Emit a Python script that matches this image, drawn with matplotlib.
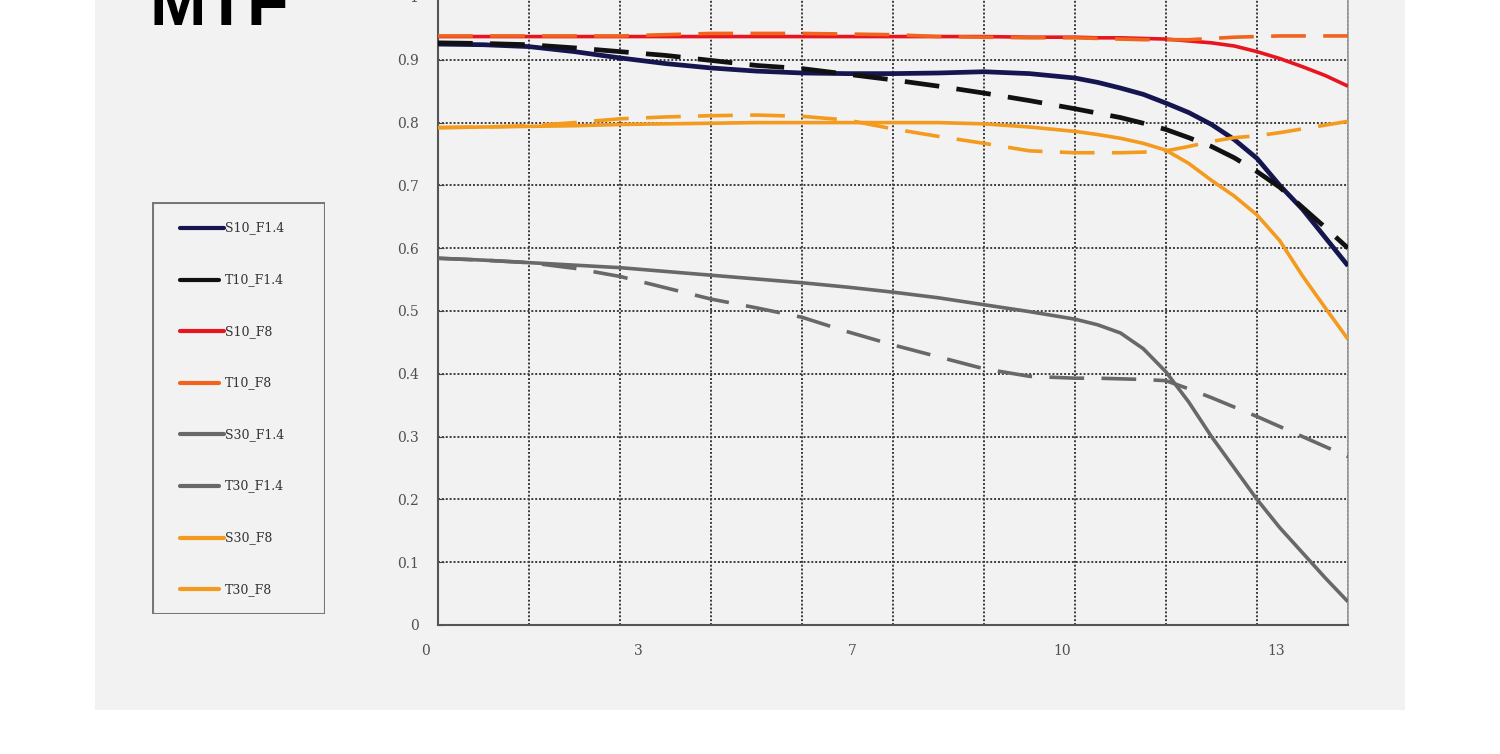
import matplotlib
matplotlib.use("Agg")
from matplotlib import pyplot as plt
from matplotlib.patches import Rectangle

# grid units along the field (0..10), finer toward the edge
u = [0, 0.5, 1, 1.5, 2, 2.5, 3, 3.5, 4, 4.5, 5, 5.5, 6, 6.5, 7,
     7.25, 7.5, 7.75, 8, 8.25, 8.5, 8.75, 9, 9.25, 9.5, 9.75, 10]

s10_f14 = [0.925, 0.924, 0.921, 0.913, 0.903, 0.894, 0.887, 0.882, 0.879, 0.878, 0.878, 0.879, 0.881, 0.878, 0.871,
           0.864, 0.855, 0.845, 0.831, 0.816, 0.797, 0.773, 0.743, 0.700, 0.662, 0.617, 0.572]
t10_f14 = [0.927, 0.926, 0.924, 0.919, 0.913, 0.907, 0.899, 0.891, 0.886, 0.877, 0.868, 0.858, 0.847, 0.835, 0.822,
           0.815, 0.808, 0.799, 0.789, 0.776, 0.762, 0.744, 0.722, 0.697, 0.665, 0.633, 0.600]
s10_f8 = [0.937, 0.937, 0.937, 0.937, 0.937, 0.937, 0.937, 0.937, 0.937, 0.937, 0.937, 0.937, 0.937, 0.936, 0.936,
          0.935, 0.935, 0.934, 0.933, 0.930, 0.927, 0.922, 0.913, 0.902, 0.889, 0.875, 0.858]
t10_f8 = [0.938, 0.938, 0.938, 0.938, 0.938, 0.940, 0.942, 0.942, 0.942, 0.941, 0.940, 0.937, 0.936, 0.935, 0.935,
          0.934, 0.933, 0.932, 0.932, 0.932, 0.934, 0.936, 0.937, 0.938, 0.938, 0.938, 0.938]
s30_f14 = [0.584, 0.581, 0.577, 0.573, 0.569, 0.563, 0.557, 0.551, 0.545, 0.538, 0.530, 0.521, 0.510, 0.499, 0.487,
           0.478, 0.465, 0.440, 0.403, 0.355, 0.300, 0.250, 0.200, 0.155, 0.115, 0.075, 0.037]
t30_f14 = [0.584, 0.581, 0.577, 0.568, 0.555, 0.537, 0.519, 0.505, 0.490, 0.467, 0.446, 0.427, 0.408, 0.396, 0.393,
           0.393, 0.392, 0.391, 0.389, 0.376, 0.362, 0.347, 0.332, 0.316, 0.300, 0.284, 0.268]
s30_f8 = [0.792, 0.793, 0.794, 0.795, 0.797, 0.798, 0.799, 0.800, 0.800, 0.800, 0.800, 0.800, 0.798, 0.793, 0.786,
          0.781, 0.775, 0.767, 0.756, 0.735, 0.708, 0.683, 0.653, 0.612, 0.556, 0.505, 0.455]
t30_f8 = [0.792, 0.793, 0.795, 0.800, 0.806, 0.809, 0.811, 0.812, 0.810, 0.804, 0.790, 0.778, 0.767, 0.755, 0.752,
          0.752, 0.752, 0.753, 0.755, 0.762, 0.770, 0.776, 0.779, 0.784, 0.790, 0.796, 0.802]

labels = ["S10_F1.4", "T10_F1.4", "S10_F8", "T10_F8", "S30_F1.4", "T30_F1.4", "S30_F8", "T30_F8"]
colors = ["#15154f", "#111111", "#e8141e", "#f0641e", "#686868", "#686868", "#f39a1f", "#f39a1f"]

x_tick_labels = ["0", "3", "7", "10", "13"]
x_tick_pos = [-0.14, 2.2, 4.55, 6.86, 9.21]   # where the labels sit on the original, in grid units
y_ticks = [0, 0.1, 0.2, 0.3, 0.4, 0.5, 0.6, 0.7, 0.8, 0.9, 1]
y_tick_labels = ["0", "0.1", "0.2", "0.3", "0.4", "0.5", "0.6", "0.7", "0.8", "0.9", "1"]

W, H = 1500, 754
fig = plt.figure(figsize=(15, 7.54), dpi=100)
fig.patch.set_facecolor("white")

# light grey panel behind everything
bg = fig.add_axes([95 / W, 1 - 710 / H, 1310 / W, 710 / H], zorder=-5)
bg.set_facecolor("#f2f2f2")
bg.set_xticks([])
bg.set_yticks([])
for sp in bg.spines.values():
    sp.set_visible(False)

ax = fig.add_axes([438 / W, 1 - 625 / H, 910 / W, 628 / H])
ax.set_facecolor("none")
ax.set_xlim(0, 10)
ax.set_ylim(0, 1)

series = [s10_f14, t10_f14, s10_f8, t10_f8, s30_f14, t30_f14, s30_f8, t30_f8]
for i, vals in enumerate(series):
    lw = 3.4 if i < 2 else 2.6
    ls = "-" if i % 2 == 0 else (0, (25 / lw, 12.5 / lw))
    ax.plot(u, vals, color=colors[i], lw=lw, linestyle=ls, solid_capstyle="butt", zorder=3)

ax.set_xticks(range(11))
ax.set_xticklabels([])
ax.tick_params(axis="x", length=0)
ax.set_yticks(y_ticks)
ax.set_yticklabels(y_tick_labels, family="DejaVu Serif", fontsize=10, color="#505050")
ax.tick_params(axis="y", direction="in", length=4, color="#444444", pad=14)
ax.grid(True, color="#3c3c3c", linestyle=(0, (1, 1)), linewidth=1.4, zorder=1)

for name, sp in ax.spines.items():
    sp.set_color("#555555")
    sp.set_linewidth(1.5)
ax.spines["top"].set_visible(False)
ax.spines["right"].set_color("#999999")
ax.spines["right"].set_linewidth(1.2)

for lab, pos in zip(x_tick_labels, x_tick_pos):
    ax.text(pos, -0.0414, lab, transform=ax.get_xaxis_transform(), ha="center", va="center",
            family="DejaVu Serif", fontsize=10, color="#505050")

fig.text(150 / W, 1 - 25 / H, "MTF", family="Liberation Sans", fontweight="bold",
         fontsize=49, color="black", ha="left", va="baseline")

# legend box drawn in its own pixel-unit axes
lax = fig.add_axes([152 / W, 1 - 614 / H, 173 / W, 412 / H])
lax.set_xlim(0, 173)
lax.set_ylim(412, 0)
lax.axis("off")
lax.add_patch(Rectangle((0.5, 0.5), 172, 411, facecolor="#f2f2f2", edgecolor="#777777", lw=1.5))
for i, lab in enumerate(labels):
    yy = 26 + i * 51.6
    x_end = 72 if i % 2 == 0 else 67
    lax.plot([28, x_end], [yy, yy], color=colors[i], lw=3.0, solid_capstyle="round")
    lax.text(73, yy, lab, family="DejaVu Serif", fontsize=9, color="#333333", ha="left", va="center")

fig.savefig("out.png", dpi=100)
